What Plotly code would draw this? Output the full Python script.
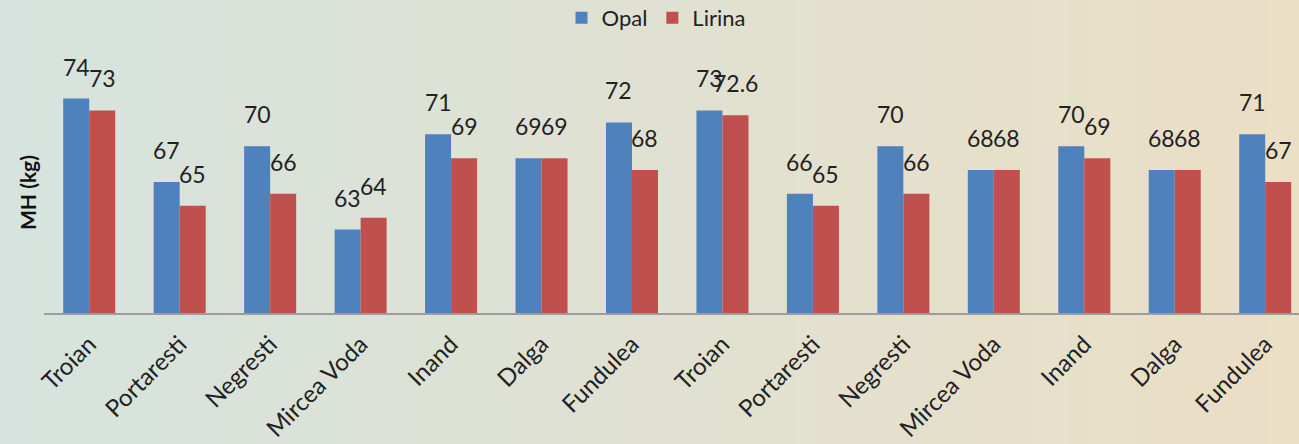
import plotly.graph_objects as go

categories = ["Troian", "Portaresti", "Negresti", "Mircea Voda", "Inand", "Dalga", "Fundulea",
              "Troian", "Portaresti", "Negresti", "Mircea Voda", "Inand", "Dalga", "Fundulea"]
opal = [74, 67, 70, 63, 71, 69, 72, 73, 66, 70, 68, 70, 68, 71]
lirina = [73, 65, 66, 64, 69, 69, 68, 72.6, 65, 66, 68, 69, 68, 67]
opal_labels = ["74", "67", "70", "63", "71", "69", "72", "73", "66", "70", "68", "70", "68", "71"]
lirina_labels = ["73", "65", "66", "64", "69", "69", "68", "72.6", "65", "66", "68", "69", "68", "67"]

BLUE = "#4f81bd"
RED = "#c0504d"
FONT = "Lato"
W, H = 1299, 444
ML, MR, MT, MB = 44, 0, 39, 131

xpos = list(range(len(categories)))

fig = go.Figure()
fig.add_trace(go.Bar(name="Opal", x=xpos, y=opal, marker=dict(color=BLUE, line=dict(width=0))))
fig.add_trace(go.Bar(name="Lirina", x=xpos, y=lirina, marker=dict(color=RED, line=dict(width=0))))

# background gradient
def lerp(c1, c2, t):
    return tuple(round(a + (b - a) * t) for a, b in zip(c1, c2))

stops = [(0.0, (214, 227, 222)), (0.5, (224, 225, 210)), (1.0, (235, 223, 197))]
N = 80
shapes = []
for k in range(N):
    t = (k + 0.5) / N
    for j in range(len(stops) - 1):
        if stops[j][0] <= t <= stops[j + 1][0]:
            tt = (t - stops[j][0]) / (stops[j + 1][0] - stops[j][0])
            c = lerp(stops[j][1], stops[j + 1][1], tt)
            break
    shapes.append(dict(type="rect", xref="paper", yref="paper", layer="below",
                       x0=-ML / (W - ML - MR) + k / N * W / (W - ML - MR) - 0.001,
                       x1=-ML / (W - ML - MR) + (k + 1) / N * W / (W - ML - MR) + 0.001,
                       y0=-MB / (H - MT - MB), y1=1 + MT / (H - MT - MB),
                       fillcolor="rgb(%d,%d,%d)" % c, line=dict(width=0)))

# data labels
plot_w = W - ML - MR
bargap = 0.425
half = (1 - bargap) / 4
annots = []
for i in xpos:
    annots.append(dict(x=i - half, y=opal[i], text=opal_labels[i], showarrow=False,
                       yanchor="bottom", yshift=16, font=dict(size=23, color="#222", family=FONT)))
    annots.append(dict(x=i + half, y=lirina[i], text=lirina_labels[i], showarrow=False,
                       yanchor="bottom", yshift=16, font=dict(size=23, color="#222", family=FONT)))

annots.append(dict(xref="paper", yref="paper", x=(27 - ML) / plot_w, y=(H - MB - 193) / (H - MT - MB),
                   xanchor="center", yanchor="middle",
                   text="<b>MH (kg)</b>", textangle=-90, showarrow=False,
                   font=dict(size=21, color="#111", family=FONT)))

fig.update_layout(
    width=W, height=H,
    margin=dict(l=ML, r=MR, t=MT, b=MB, autoexpand=False),
    barmode="group", bargap=bargap, bargroupgap=0,
    paper_bgcolor="#e0e1d2", plot_bgcolor="rgba(0,0,0,0)",
    font=dict(family=FONT, color="#222"),
    shapes=shapes, annotations=annots,
    showlegend=True,
    legend=dict(orientation="h", x=(656 - ML) / plot_w, xanchor="center",
                y=1 + (MT - 18) / (H - MT - MB), yanchor="middle",
                font=dict(size=22, family=FONT, color="#222"), bgcolor="rgba(0,0,0,0)",
                itemwidth=30, traceorder="normal"),
    xaxis=dict(tickmode="array", tickvals=xpos, ticktext=categories, tickangle=-45,
               range=[-0.5, -0.5 + plot_w / 90.46], showline=True, linecolor="#9c9c9c", linewidth=1.5,
               ticks="", showgrid=False, zeroline=False, ticklabelstandoff=6,
               tickfont=dict(size=24, family=FONT, color="#222")),
    yaxis=dict(range=[56, 79], showticklabels=False, showgrid=False, zeroline=False,
               showline=False, ticks=""),
)

fig.write_html("out.html", config={"displayModeBar": False},
               post_script="document.body.style.margin='0';document.body.style.overflow='hidden';")
